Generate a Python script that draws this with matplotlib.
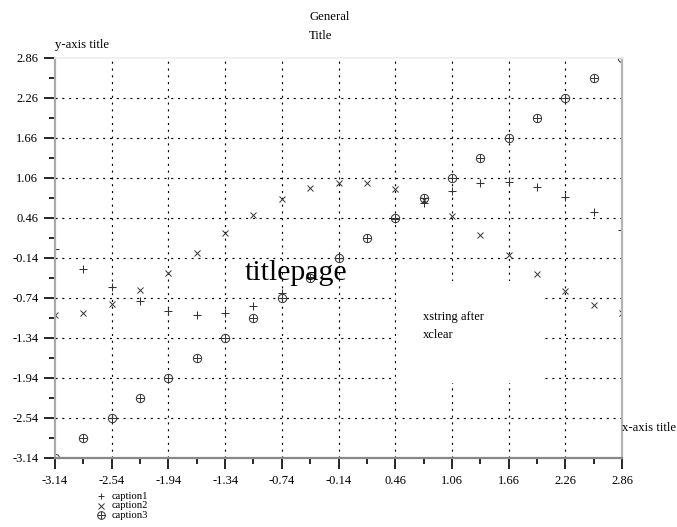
import matplotlib
matplotlib.use("Agg")
import matplotlib.pyplot as plt
from matplotlib.lines import Line2D
from matplotlib.patches import Rectangle

plt.rcParams['font.family'] = ['Liberation Serif', 'DejaVu Serif']
plt.rcParams['lines.scale_dashes'] = False

# ---- data ----
x_vals = [-3.14, -2.84, -2.54, -2.24, -1.94, -1.64, -1.34, -1.04, -0.74, -0.44,
          -0.14, 0.16, 0.46, 0.76, 1.06, 1.36, 1.66, 1.96, 2.26, 2.56, 2.86]
caption1 = [-0.00, -0.30, -0.57, -0.79, -0.93, -1.00, -0.97, -0.86, -0.67, -0.43,
            -0.14, 0.16, 0.44, 0.69, 0.87, 0.98, 1.00, 0.93, 0.77, 0.55, 0.28]
caption2 = [-1.00, -0.96, -0.83, -0.62, -0.36, -0.07, 0.23, 0.51, 0.74, 0.91,
            0.99, 0.99, 0.90, 0.73, 0.49, 0.21, -0.09, -0.38, -0.64, -0.84, -0.96]
caption3 = [-3.14, -2.84, -2.54, -2.24, -1.94, -1.64, -1.34, -1.04, -0.74, -0.44,
            -0.14, 0.16, 0.46, 0.76, 1.06, 1.36, 1.66, 1.96, 2.26, 2.56, 2.86]
legend_labels = ['caption1', 'caption2', 'caption3']
major_ticks = [-3.14, -2.54, -1.94, -1.34, -0.74, -0.14, 0.46, 1.06, 1.66, 2.26, 2.86]
minor_ticks = [-2.84, -2.24, -1.64, -1.04, -0.44, 0.16, 0.76, 1.36, 1.96, 2.56]
tick_labels = ['-3.14', '-2.54', '-1.94', '-1.34', '-0.74', '-0.14', '0.46',
               '1.06', '1.66', '2.26', '2.86']
lim = (-3.14, 2.86)
clear_box = (0.47, -2.015, 1.53, 1.53)  # x, y, w, h of the xclear region

W, H = 677, 527
fig = plt.figure(figsize=(W / 100, H / 100), dpi=100)
ax = fig.add_axes([55 / W, 1 - 458 / H, (622 - 55) / W, (458 - 58) / H])
ax.set_xlim(*lim)
ax.set_ylim(*lim)

# grid (interior major ticks only)
grid_kw = dict(color='black', lw=0.85, linestyle=(0, (1.5, 3.4)), zorder=1)
for t in major_ticks[1:-1]:
    ax.axvline(t, **grid_kw)
    ax.axhline(t, **grid_kw)

# xclear white region
ax.add_patch(Rectangle(clear_box[:2], clear_box[2], clear_box[3],
                       facecolor='white', edgecolor='none', zorder=2))

mk = dict(linestyle='none', color='#333333', zorder=3)
ax.plot(x_vals, caption1, marker='+', ms=5.2, mew=0.75, **mk)
ax.plot(x_vals, caption2, marker='x', ms=4.2, mew=0.7, **mk)
ax.plot(x_vals, caption3, marker='o', ms=6, mew=0.7, mfc='none', **mk)
ax.plot(x_vals, caption3, marker='+', ms=6, mew=0.7, **mk)

# ticks
ax.set_xticks(major_ticks)
ax.set_yticks(major_ticks)
ax.set_xticklabels(tick_labels)
ax.set_yticklabels(tick_labels)
ax.set_xticks(minor_ticks, minor=True)
ax.set_yticks(minor_ticks, minor=True)
ax.tick_params(which='major', length=8, width=1.2, color='black', labelsize=9,
               direction='out')
ax.tick_params(axis='x', which='major', pad=4)
ax.tick_params(axis='y', which='major', pad=4)
ax.tick_params(which='minor', length=4, width=1.2, color='black', direction='out')

ax.spines['left'].set_color('#aaaaaa')
ax.spines['left'].set_linewidth(1.6)
ax.spines['bottom'].set_color('#888888')
ax.spines['bottom'].set_linewidth(1.6)
ax.spines['right'].set_color('#b5b5b5')
ax.spines['right'].set_linewidth(1.6)
ax.spines['top'].set_color('#eeeeee')
ax.spines['top'].set_linewidth(1.2)
for s in ax.spines.values():
    s.set_zorder(4)

# texts
def ftext(px, py, s, size, **kw):
    fig.text(px / W, 1 - py / H, s, fontsize=size, color='black', **kw)

ftext(309, 20, 'General', 9.2, ha='left', va='baseline')
ftext(309, 39, 'Title', 9.2, ha='left', va='baseline')
ftext(55, 48, 'y-axis title', 9.2, ha='left', va='baseline')
ftext(622, 431, 'x-axis title', 9.2, ha='left', va='baseline')
ftext(245, 280, 'titlepage', 21.5, ha='left', va='baseline')
ftext(423, 320, 'xstring after', 9.0, ha='left', va='baseline')
ftext(423, 338, 'xclear', 9.0, ha='left', va='baseline')

# legend (manual, tightly spaced)
leg_y = [496, 505.5, 515]
leg_markers = ['+', 'x', 'oplus']
for lab, ly, m in zip(legend_labels, leg_y, leg_markers):
    fx, fy = 101 / W, 1 - ly / H
    if m == 'oplus':
        fig.add_artist(Line2D([fx], [fy], marker='o', ms=5.5, mew=0.7, mfc='none',
                              color='#333333', transform=fig.transFigure))
        fig.add_artist(Line2D([fx], [fy], marker='+', ms=5.5, mew=0.7,
                              color='#333333', transform=fig.transFigure))
    else:
        fig.add_artist(Line2D([fx], [fy], marker=m, ms=5 if m == '+' else 4,
                              mew=0.7, color='#333333', transform=fig.transFigure))
    ftext(112, ly + 3, lab, 7.6, ha='left', va='baseline')

fig.savefig('out.png', dpi=100)
